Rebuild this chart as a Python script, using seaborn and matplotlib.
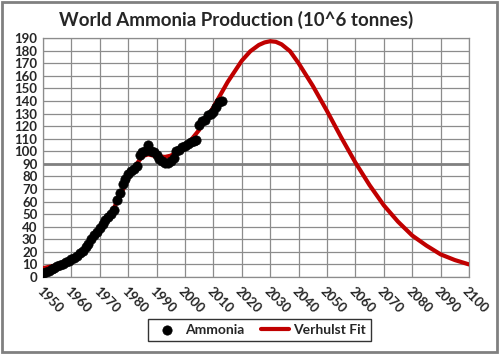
import pandas as pd
import seaborn as sns
import matplotlib.pyplot as plt
from matplotlib.patches import Rectangle

# ------------------------------------------------------------------
# data
# ------------------------------------------------------------------
ammonia_years = list(range(1950, 2014))
ammonia_values = [3.5, 4, 5, 6, 7, 8.5, 9.5, 10.5, 12, 13,
                  14.5, 15.5, 17, 19, 21, 23.5, 26.5, 30, 33.5, 36,
                  39, 42.5, 45, 47.5, 50, 53, 61, 67, 74, 78,
                  82, 84, 86, 88, 97, 99, 100, 105, 100, 99,
                  97, 94, 92, 91, 90.5, 92, 95, 100, 101, 103,
                  104, 106, 107, 108, 109, 121, 124, 125, 129, 130,
                  131, 135, 139, 140]

fit_years = [1950, 1955, 1960, 1965, 1970, 1975, 1980, 1983, 1985, 1987,
             1990, 1993, 1995, 2000, 2005, 2010, 2015, 2020, 2023, 2026,
             2028, 2030, 2032, 2034, 2037, 2040, 2045, 2050, 2055, 2060,
             2065, 2070, 2075, 2080, 2085, 2090, 2095, 2100]
fit_values = [7, 9.5, 14, 22, 37, 55, 78, 90, 96, 97.5,
              96, 95.5, 96.5, 103, 117, 135, 155, 172, 179.5, 184.5,
              186.5, 187.5, 187, 185, 179.5, 170, 152, 132, 111, 91,
              73, 57, 44, 33, 25, 18, 13.5, 10]

x_ticks = list(range(1950, 2101, 10))
y_ticks = list(range(0, 191, 10))

df_pts = pd.DataFrame({"year": ammonia_years, "value": ammonia_values})
df_fit = pd.DataFrame({"year": fit_years, "value": fit_values})

# ------------------------------------------------------------------
# figure
# ------------------------------------------------------------------
sns.set_theme(style="white")
plt.rcParams["font.family"] = ["Lato", "DejaVu Sans"]

fig = plt.figure(figsize=(5.0, 3.54), dpi=100)
ax = fig.add_axes([0.086, 0.2175, 0.852, 0.675])

sns.lineplot(data=df_fit, x="year", y="value", ax=ax, color="#c00000",
             linewidth=3, label="Verhulst Fit", zorder=3)
sns.scatterplot(data=df_pts, x="year", y="value", ax=ax, color="black",
                s=45, edgecolor="black", linewidth=0.5, label="Ammonia", zorder=4)

ax.set_xlim(1950, 2100)
ax.set_ylim(0, 190)
ax.set_xticks(x_ticks)
ax.set_yticks(y_ticks)
ax.set_xticklabels([str(t) for t in x_ticks], rotation=-45, ha="left",
                   va="top", rotation_mode="anchor", fontsize=9.5, fontweight="bold")
ax.set_yticklabels([str(t) for t in y_ticks], fontsize=9.5, fontweight="bold")
ax.tick_params(axis="x", length=4, color="#808080", pad=2)
ax.tick_params(axis="y", length=0, pad=4)
ax.set_xlabel("")
ax.set_ylabel("")

ax.grid(True, color="#8c8c8c", linewidth=0.9)
ax.set_axisbelow(True)
ax.axhline(90, color="#808080", linewidth=2, zorder=1)
for s in ax.spines.values():
    s.set_color("#8c8c8c")
    s.set_linewidth(0.9)

fig.text(0.472, 0.945, "World Ammonia Production (10^6 tonnes)", ha="center",
         va="center", fontsize=13.5, fontweight="bold")

# legend: Ammonia first, then fit
handles, labels = ax.get_legend_handles_labels()
order = [labels.index("Ammonia"), labels.index("Verhulst Fit")]
leg = fig.legend([handles[i] for i in order], [labels[i] for i in order],
                 loc="center", bbox_to_anchor=(0.519, 0.068), ncol=2,
                 frameon=True, fancybox=False, fontsize=10, columnspacing=1.2,
                 handlelength=2.0, handletextpad=0.3, borderpad=0.35)
leg.get_frame().set_edgecolor("black")
leg.get_frame().set_linewidth(1.0)
for t in leg.get_texts():
    t.set_fontweight("bold")
if ax.get_legend():
    ax.get_legend().remove()

# grey chart-area border
fig.patches.append(Rectangle((0.004, 0.006), 0.99, 0.988, transform=fig.transFigure,
                             fill=False, edgecolor="#808080", linewidth=2))

fig.savefig("out.png", dpi=100)
